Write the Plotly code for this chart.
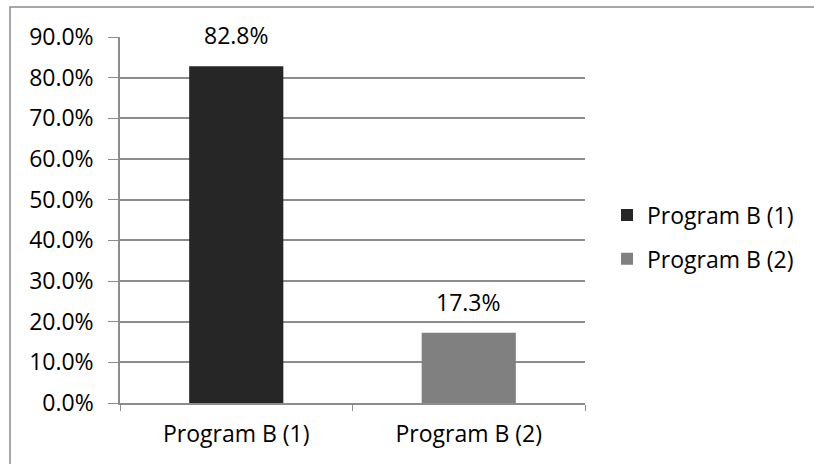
import plotly.graph_objects as go

categories = ["Program B (1)", "Program B (2)"]
values = [82.8, 17.3]
colors = ["#262626", "#808080"]
y_ticks = [0, 10, 20, 30, 40, 50, 60, 70, 80, 90]
y_tick_labels = [f"{v:.1f}%" for v in y_ticks]

FONT = "Open Sans"
FS = 23
fig = go.Figure()
for cat, val, col in zip(categories, values, colors):
    fig.add_trace(go.Bar(x=[cat], y=[val], name=cat, legendgroup=cat,
                         marker=dict(color=col, line=dict(width=0)), width=0.405))
    fig.add_annotation(x=cat, y=val, text=f"{val:.1f}%", showarrow=False, yanchor="bottom",
                       yshift=13, font=dict(family=FONT, size=FS, color="#000"))

L, R, T, B = 120, 229, 37, 61
W, H = 814, 464
pw, ph = W - L - R, H - T - B
fig.add_shape(type="rect", xref="paper", yref="paper",
              x0=(10 - L) / pw, x1=(W + 5 - L) / pw,
              y0=(H - B - (H + 5)) / ph, y1=1 + (T - 7) / ph,
              line=dict(color="#8c8c8c", width=1.5), fillcolor="rgba(0,0,0,0)", layer="below")

fig.update_layout(
    width=W, height=H, margin=dict(l=L, r=R, t=T, b=B),
    barmode="overlay", plot_bgcolor="white", paper_bgcolor="white",
    font=dict(family=FONT, size=FS, color="#000"),
    legend=dict(x=(607 - L) / pw, y=(H - B - 237) / ph, xanchor="left", yanchor="middle",
                font=dict(family=FONT, size=FS, color="#000"), traceorder="grouped",
                tracegroupgap=11, itemwidth=30, bgcolor="rgba(0,0,0,0)"),
    xaxis=dict(type="category", tickson="boundaries", ticks="outside", ticklen=6,
               tickcolor="#8c8c8c", showline=True, linecolor="#8c8c8c", linewidth=1.5,
               showgrid=False, range=[-0.5, 1.5], tickfont=dict(size=FS), ticklabelstandoff=10),
    yaxis=dict(range=[0, 90], tickvals=y_ticks, ticktext=y_tick_labels, ticks="outside",
               ticklen=10, tickcolor="#8c8c8c", showline=True, linecolor="#8c8c8c", linewidth=1.5,
               showgrid=True, gridcolor="#8c8c8c", gridwidth=1.5, zeroline=False,
               tickfont=dict(size=FS), ticklabelstandoff=10),
)
fig.write_html("out.html")
